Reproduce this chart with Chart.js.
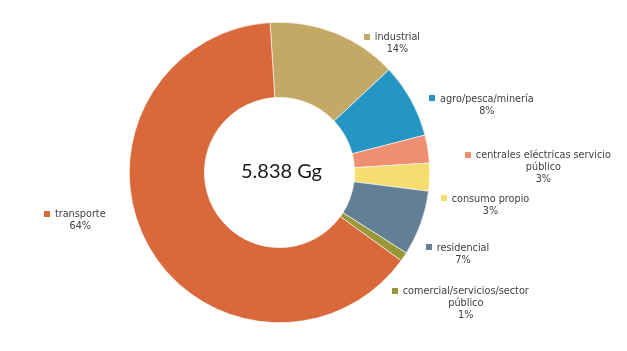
<!DOCTYPE html>
<html>
<head>
<meta charset="utf-8">
<script src="https://cdn.jsdelivr.net/npm/chart.js@4/dist/chart.umd.min.js"></script>
<style>
  html, body { margin: 0; padding: 0; background: #fff; }
  #wrap { width: 627px; height: 351px; position: relative; }
</style>
</head>
<body>
<div id="wrap"><canvas id="chart"></canvas></div>
<script>
// emisiones por sector (Gg), en orden horario desde arriba
const categories = [
  "industrial",
  "agro/pesca/minería",
  "centrales eléctricas servicio público",
  "consumo propio",
  "residencial",
  "comercial/servicios/sector público",
  "transporte"
]
const values = [817, 467, 175, 175, 409, 58, 3737]
const unit = "Gg"

const colors = ["#C4A865", "#2596C4", "#EE8F72", "#F7DC6F", "#637F96", "#98973A", "#D9683A"]

// label marker offset from the outer middle point of each slice (px)
const labelOffsets = [
  [32, 4], [21, -2], [40, 6], [14, 21], [8, 24], [-9, 34], [-101, -31]
]

const total = values.reduce((a, b) => a + b, 0)
const textColor = "#404040"
const labelFont = "9.7px 'DejaVu Sans'"

function wrapText(ctx, text, maxWidth) {
  const words = text.split(" ")
  const lines = []
  let line = ""
  for (const w of words) {
    const test = line ? line + " " + w : w
    if (line && ctx.measureText(test).width > maxWidth) {
      lines.push(line)
      line = w
    } else {
      line = test
    }
  }
  if (line) lines.push(line)
  return lines
}

const sliceLabels = {
  id: "sliceLabels",
  afterDraw(chart) {
    const ctx = chart.ctx
    const meta = chart.getDatasetMeta(0)
    ctx.save()
    ctx.font = labelFont
    ctx.textBaseline = "middle"
    meta.data.forEach((arc, i) => {
      const p = arc.getProps(["x", "y", "startAngle", "endAngle", "outerRadius"], true)
      const mid = (p.startAngle + p.endAngle) / 2
      const mx = p.x + Math.cos(mid) * p.outerRadius + labelOffsets[i][0]
      const my = p.y + Math.sin(mid) * p.outerRadius + labelOffsets[i][1]
      const pct = Math.round(values[i] / total * 100) + "%"
      const lines = wrapText(ctx, categories[i], 142).concat([pct])

      // marker
      ctx.fillStyle = colors[i]
      ctx.fillRect(Math.round(mx - 3), Math.round(my - 3), 6, 6)

      const left = mx + 8
      const widths = lines.map(l => ctx.measureText(l).width)
      const cx = left + Math.max(...widths) / 2
      ctx.fillStyle = textColor
      lines.forEach((l, k) => {
        ctx.textAlign = k === 0 ? "left" : "center"
        const x = k === 0 ? left : cx
        ctx.fillText(l, x, my + 1 + k * 12)
      })
    })
    ctx.restore()
  }
}

const centerText = {
  id: "centerText",
  afterDraw(chart) {
    const meta = chart.getDatasetMeta(0)
    const arc = meta.data[0]
    if (!arc) return
    const ctx = chart.ctx
    ctx.save()
    ctx.font = "20px Lato"
    ctx.fillStyle = "#1a1a1a"
    ctx.textAlign = "center"
    ctx.textBaseline = "middle"
    const label = total.toLocaleString("es-ES", { useGrouping: "always" }).replace(/\s|,/g, ".") + " " + unit
    ctx.fillText(label, arc.x + 2, arc.y - 1)
    ctx.restore()
  }
}

new Chart(document.getElementById("chart"), {
  type: "doughnut",
  data: {
    labels: categories,
    datasets: [{
      data: values,
      backgroundColor: colors,
      borderColor: "#ffffff",
      borderWidth: 0.6,
      hoverOffset: 0
    }]
  },
  options: {
    responsive: true,
    maintainAspectRatio: false,
    animation: false,
    rotation: -3.6,
    cutout: "50%",
    layout: { padding: { top: 22, bottom: 28, left: 129, right: 197 } },
    plugins: {
      legend: { display: false },
      tooltip: { enabled: false }
    }
  },
  plugins: [sliceLabels, centerText]
})
</script>
</body>
</html>
